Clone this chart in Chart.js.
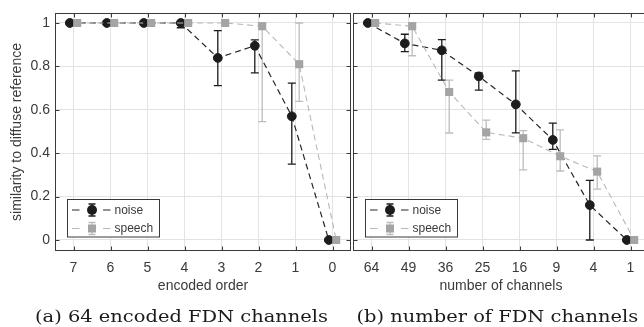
<!DOCTYPE html>
<html>
<head>
<meta charset="utf-8">
<script src="https://cdn.jsdelivr.net/npm/chart.js@4/dist/chart.umd.min.js"></script>
<style>
html,body{margin:0;padding:0;background:#fff;}
body{width:644px;height:327px;overflow:hidden;position:relative;}
canvas{position:absolute;top:0;}
</style>
</head>
<body>
<canvas id="cA" width="352" height="300" style="left:0px"></canvas>
<canvas id="cB" width="300" height="300" style="left:352px"></canvas>
<canvas id="cap" width="644" height="327" style="left:0px;pointer-events:none"></canvas>
<script>
// ---- data ----
const leftLabels   = ['7','6','5','4','3','2','1','0'];
const leftNoise    = [1, 1, 1, 1, 0.839, 0.895, 0.57, 0];
const leftNoiseLo  = [1, 1, 1, 0.978, 0.711, 0.77, 0.35, 0];
const leftNoiseHi  = [1, 1, 1, 1, 0.965, 0.922, 0.723, 0];
const leftSpeech   = [1, 1, 1, 1, 1, 0.985, 0.81, 0];
const leftSpeechLo = [1, 1, 1, 1, 1, 0.545, 0.639, 0];
const leftSpeechHi = [1, 1, 1, 1, 1, 1, 1, 0];

const rightLabels   = ['64','49','36','25','16','9','4','1'];
const rightNoise    = [1, 0.906, 0.874, 0.754, 0.625, 0.461, 0.161, 0];
const rightNoiseLo  = [1, 0.868, 0.737, 0.691, 0.494, 0.418, 0, 0];
const rightNoiseHi  = [1, 0.948, 0.923, 0.77, 0.779, 0.539, 0.275, 0];
const rightSpeech   = [1, 0.985, 0.682, 0.496, 0.469, 0.386, 0.315, 0];
const rightSpeechLo = [1, 0.849, 0.493, 0.464, 0.323, 0.318, 0.234, 0];
const rightSpeechHi = [1, 1, 0.737, 0.552, 0.504, 0.507, 0.388, 0];

const yTicks = [0, 0.2, 0.4, 0.6, 0.8, 1];
const seriesNames = ['noise', 'speech'];
const yTitle = 'similarity to diffuse reference';
const xTitleA = 'encoded order';
const xTitleB = 'number of channels';
const captionA = '(a) 64 encoded FDN channels';
const captionB = '(b) number of FDN channels';

// ---- styles ----
const DODGE = 0.1;
const SANS = '"Liberation Sans", Arial, Helvetica, sans-serif';
const TXT = '#3a3a3a';
const FRAME = '#3a3a3a';
const NOISE_C = '#1c1c1c';
const NOISE_LINE = '#262626';
const SPEECH_C = '#a4a4a4';
const SPEECH_LINE = '#b8b8b8';
const SPEECH_ERR = '#bdbdbd';

function pts(vals, shift){ return vals.map((v,i)=>({x:i+shift, y:v})); }

const framePlugin = {
  id: 'frame',
  beforeDatasetsDraw(chart){
    const ctx = chart.ctx, xs = chart.scales.x, ys = chart.scales.y;
    ctx.save();
    chart.data.datasets.forEach(ds=>{
      ctx.strokeStyle = ds.errColor; ctx.lineWidth = 1.3; ctx.setLineDash([]);
      ds.data.forEach((p,j)=>{
        const lo = ds.errLo[j], hi = ds.errHi[j];
        if (hi - lo < 1e-6) return;
        const x = xs.getPixelForValue(p.x);
        const y1 = ys.getPixelForValue(lo), y2 = ys.getPixelForValue(hi);
        ctx.beginPath();
        ctx.moveTo(x, y1); ctx.lineTo(x, y2);
        ctx.moveTo(x-4, y1); ctx.lineTo(x+4, y1);
        ctx.moveTo(x-4, y2); ctx.lineTo(x+4, y2);
        ctx.stroke();
      });
    });
    ctx.restore();
  },
  afterDraw(chart, args, o){
    const ctx = chart.ctx, a = chart.chartArea, xs = chart.scales.x, ys = chart.scales.y;
    ctx.save();
    ctx.setLineDash([]);
    ctx.strokeStyle = FRAME; ctx.lineWidth = 1;
    const L = Math.round(a.left)+0.5, R = Math.round(a.right)-0.5, T = Math.round(a.top)+0.5, B = Math.round(a.bottom)-0.5;
    ctx.strokeRect(L, T, R-L, B-T);
    ctx.beginPath();
    xs.ticks.forEach(t=>{
      const x = Math.round(xs.getPixelForValue(t.value))+0.5;
      ctx.moveTo(x, B); ctx.lineTo(x, B-4);
      ctx.moveTo(x, T); ctx.lineTo(x, T+4);
    });
    ys.ticks.forEach(t=>{
      const y = Math.round(ys.getPixelForValue(t.value))+0.5;
      ctx.moveTo(L, y); ctx.lineTo(L+4, y);
      ctx.moveTo(R, y); ctx.lineTo(R-4, y);
    });
    ctx.stroke();

    // axis titles
    ctx.fillStyle = TXT;
    ctx.font = '14px ' + SANS;
    ctx.textAlign = 'center'; ctx.textBaseline = 'middle';
    ctx.fillText(o.xTitle, (a.left+a.right)/2, a.bottom + 35);
    if (o.yTitle) {
      ctx.save();
      ctx.translate(17, (a.top+a.bottom)/2);
      ctx.rotate(-Math.PI/2);
      ctx.fillText(o.yTitle, 0, 0);
      ctx.restore();
    }

    // legend
    const bx = Math.round(a.left) + 12.5, by = Math.round(a.bottom) - 51.5, bw = 92, bh = 37.5;
    ctx.fillStyle = '#fff';
    ctx.fillRect(bx, by, bw, bh);
    ctx.strokeStyle = FRAME; ctx.lineWidth = 1;
    ctx.strokeRect(bx, by, bw, bh);
    const rows = [
      {name: seriesNames[0], line: NOISE_LINE, err: NOISE_C, mk: NOISE_C, shape: 'circle', y: by + 10.5},
      {name: seriesNames[1], line: SPEECH_LINE, err: SPEECH_ERR, mk: SPEECH_C, shape: 'rect', y: by + 29}
    ];
    rows.forEach(r=>{
      const mx = bx + 24.5;
      ctx.strokeStyle = r.line; ctx.lineWidth = 1.2;
      ctx.beginPath();
      ctx.moveTo(bx+4.5, r.y); ctx.lineTo(bx+12, r.y);
      ctx.moveTo(bx+35.5, r.y); ctx.lineTo(bx+43, r.y);
      ctx.stroke();
      ctx.strokeStyle = r.err; ctx.lineWidth = 1.3;
      ctx.beginPath();
      ctx.moveTo(mx, r.y-6); ctx.lineTo(mx, r.y+6);
      ctx.moveTo(mx-3.5, r.y-6); ctx.lineTo(mx+3.5, r.y-6);
      ctx.moveTo(mx-3.5, r.y+6); ctx.lineTo(mx+3.5, r.y+6);
      ctx.stroke();
      ctx.fillStyle = r.mk;
      if (r.shape === 'circle') { ctx.beginPath(); ctx.arc(mx, r.y, 5, 0, Math.PI*2); ctx.fill(); }
      else { ctx.fillRect(mx-4, r.y-4, 8, 8); }
      ctx.fillStyle = TXT;
      ctx.font = '12px ' + SANS;
      ctx.textAlign = 'left'; ctx.textBaseline = 'middle';
      ctx.fillText(r.name, bx + 47, r.y + 0.5);
    });
    ctx.restore();
  }
};

function makeChart(id, labels, noise, noiseLo, noiseHi, speech, speechLo, speechHi, cfg){
  return new Chart(document.getElementById(id), {
    type: 'line',
    data: {
      datasets: [
        {
          label: seriesNames[0], data: pts(noise, -DODGE), errLo: noiseLo, errHi: noiseHi, errColor: NOISE_C,
          borderColor: NOISE_LINE, borderWidth: 1.2, borderDash: [6,4],
          pointStyle: 'circle', pointRadius: 4.4, pointBorderWidth: 1,
          pointBackgroundColor: NOISE_C, pointBorderColor: NOISE_C, order: 1
        },
        {
          label: seriesNames[1], data: pts(speech, DODGE), errLo: speechLo, errHi: speechHi, errColor: SPEECH_ERR,
          borderColor: SPEECH_LINE, borderWidth: 1.1, borderDash: [6,4],
          pointStyle: 'rect', pointRadius: 5.7, pointBorderWidth: 0,
          pointBackgroundColor: SPEECH_C, pointBorderColor: SPEECH_C, order: 0
        }
      ]
    },
    plugins: [framePlugin],
    options: {
      responsive: false, animation: false,
      layout: { autoPadding: false, padding: { top: 13, right: cfg.padRight, left: 0, bottom: 0 } },
      plugins: {
        legend: { display: false }, tooltip: { enabled: false },
        frame: { xTitle: cfg.xTitle, yTitle: cfg.yTitle }
      },
      scales: {
        x: {
          type: 'linear', min: -0.5, max: labels.length - 0.5,
          afterBuildTicks: s => { s.ticks = labels.map((_, i) => ({ value: i })); },
          afterFit: s => { s.height = 49; s.paddingLeft = 0; s.paddingRight = 0; },
          ticks: {
            callback: v => labels[Math.round(v)],
            font: { family: SANS, size: 14 }, color: TXT, padding: 9, maxRotation: 0, autoSkip: false
          },
          grid: { color: '#e3e3e3', lineWidth: 1, drawTicks: false },
          border: { display: false }
        },
        y: {
          type: 'linear', min: -0.0507, max: 1.046,
          afterBuildTicks: s => { s.ticks = yTicks.map(v => ({ value: v })); },
          afterFit: s => { s.width = cfg.yWidth; s.paddingTop = 0; s.paddingBottom = 0; },
          ticks: {
            display: cfg.showY,
            callback: v => (v === 0 || v === 1) ? String(v) : v.toFixed(1),
            font: { family: SANS, size: 14 }, color: TXT, padding: 5
          },
          grid: { color: '#e3e3e3', lineWidth: 1, drawTicks: false },
          border: { display: false }
        }
      }
    }
  });
}

makeChart('cA', leftLabels, leftNoise, leftNoiseLo, leftNoiseHi, leftSpeech, leftSpeechLo, leftSpeechHi,
  { xTitle: xTitleA, yTitle: yTitle, yWidth: 55, padRight: 1, showY: true });
makeChart('cB', rightLabels, rightNoise, rightNoiseLo, rightNoiseHi, rightSpeech, rightSpeechLo, rightSpeechHi,
  { xTitle: xTitleB, yTitle: null, yWidth: 1, padRight: 3, showY: false });

// captions
(function(){
  const c = document.getElementById('cap').getContext('2d');
  c.fillStyle = '#1a1a1a';
  c.font = '17px "DejaVu Serif", "Liberation Serif", serif';
  c.textBaseline = 'alphabetic';
  const w = c.measureText(captionA).width;
  const sx = 293 / w;
  [[captionA, 35], [captionB, 356.5]].forEach(([t, x])=>{
    c.save(); c.translate(x, 321.5); c.scale(sx, 1); c.fillText(t, 0, 0); c.restore();
  });
})();
</script>
</body>
</html>
